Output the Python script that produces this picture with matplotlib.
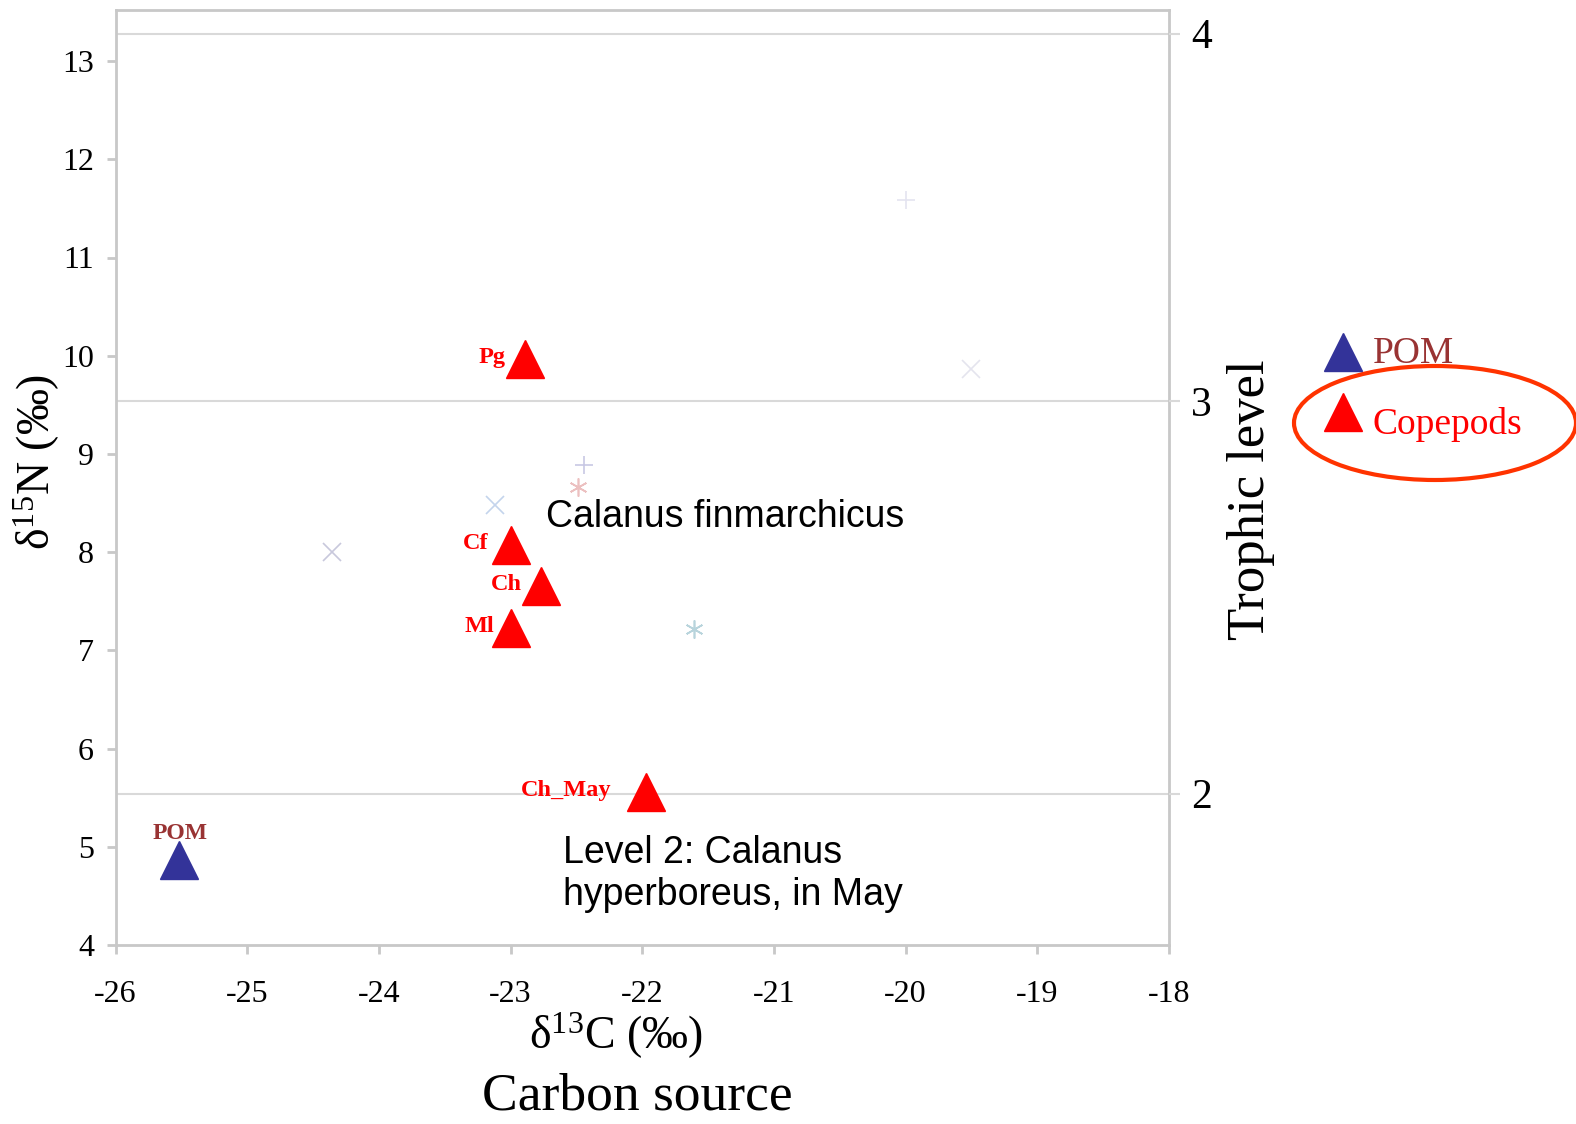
import matplotlib
matplotlib.use("Agg")
import matplotlib.pyplot as plt
from matplotlib.patches import Ellipse

plt.rcParams['font.family'] = ['Liberation Serif', 'DejaVu Serif']
plt.rcParams['mathtext.fontset'] = 'custom'
plt.rcParams['mathtext.rm'] = 'Liberation Serif'
plt.rcParams['mathtext.it'] = 'Liberation Serif:italic'
plt.rcParams['mathtext.bf'] = 'Liberation Serif:bold'

# Data
pom_label = ["POM"]
pom_d13C = [-25.52]
pom_d15N = [4.87]

cop_labels = ["Pg", "Cf", "Ch", "Ml", "Ch_May"]
cop_d13C = [-22.89, -23.00, -22.77, -23.00, -21.97]
cop_d15N = [9.97, 8.07, 7.66, 7.23, 5.56]
cop_label_gap = [14, 16, 14, 12, 25]

faint_d13C = [-24.36, -23.12, -22.49, -22.44, -21.61, -20.00, -19.50]
faint_d15N = [8.00, 8.48, 8.66, 8.89, 7.22, 11.59, 9.86]
faint_markers = ['x', 'x', (6, 2, 0), '+', (6, 2, 0), '+', 'x']
faint_colors = ['#c8c8dc', '#c4d4ec', '#ecc0c0', '#c8c8e4', '#b8d4dc', '#e4e4f0', '#e4e4ee']

trophic_levels = [2, 3, 4]
trophic_d15N = [5.54, 9.54, 13.28]

x_ticks = [-26, -25, -24, -23, -22, -21, -20, -19, -18]
y_ticks = [4, 5, 6, 7, 8, 9, 10, 11, 12, 13]

RED = '#ff0000'
BLUE = '#333399'
BROWN = '#993333'
SPINE = '#c8c8c8'

W, H = 1576, 1124
fig = plt.figure(figsize=(W / 100, H / 100), dpi=100)
ax = fig.add_axes([115.6 / W, 1 - 945 / H, (1169 - 115.6) / W, (945 - 10) / H])
ax.set_xlim(-26, -18)
ax.set_ylim(4, 13.52)

for sp in ax.spines.values():
    sp.set_color(SPINE)
    sp.set_linewidth(2)

ax.set_xticks(x_ticks)
ax.set_yticks(y_ticks)
ax.set_xticklabels([str(v) for v in x_ticks])
ax.set_yticklabels([str(v) for v in y_ticks])
ax.tick_params(axis='both', direction='out', length=6.5, width=2, color=SPINE,
               labelsize=23)
ax.tick_params(axis='x', pad=19)
ax.tick_params(axis='y', pad=9)

# right axis: trophic level
ax2 = ax.twinx()
ax2.set_ylim(ax.get_ylim())
ax2.set_yticks(trophic_d15N)
ax2.set_yticklabels([str(t) for t in trophic_levels])
ax2.tick_params(axis='y', direction='out', length=8, width=1.5, color='#d9d9d9',
                labelsize=30, pad=8)
for sp in ax2.spines.values():
    sp.set_visible(False)
for t in trophic_d15N:
    ax.axhline(t, color='#d9d9d9', lw=1.5, zorder=0)

# faint markers
for x, y, m, c in zip(faint_d13C, faint_d15N, faint_markers, faint_colors):
    ax.plot([x], [y], marker=m, ms=13, mew=1.2, color=c, ls='none', zorder=1)

# data
ax.plot(pom_d13C, pom_d15N, marker='^', ms=27, color=BLUE, ls='none', zorder=3)
ax.plot(cop_d13C, cop_d15N, marker='^', ms=27, color=RED, ls='none', zorder=3)

ax.annotate(pom_label[0], (pom_d13C[0], pom_d15N[0]), xytext=(1, 19),
            textcoords='offset points', ha='center', va='center',
            color=BROWN, fontsize=17, fontweight='bold', zorder=4)
for lab, x, y, g in zip(cop_labels, cop_d13C, cop_d15N, cop_label_gap):
    ax.annotate(lab, (x, y), xytext=(-g, 1), textcoords='offset points',
                ha='right', va='center', color=RED, fontsize=17.5,
                fontweight='bold', zorder=4)

sans = ['Liberation Sans', 'DejaVu Sans']
ax.text(-22.73, 8.36, "Calanus finmarchicus", family=sans, fontsize=27,
        ha='left', va='center', color='black')
ax.text(-22.60, 4.72, "Level 2: Calanus\nhyperboreus, in May", family=sans,
        fontsize=27, ha='left', va='center', color='black', linespacing=1.2)

fig.text(37 / W, 1 - 462 / H, "δ$^{15}$N (‰)", fontsize=33, ha='center',
         va='center', rotation=90)
fig.text(616 / W, 1 - 1049 / H, "δ$^{13}$C (‰)", fontsize=33, ha='center',
         va='baseline')
fig.text(637 / W, 1 - 1110 / H, "Carbon source", fontsize=38.5, ha='center',
         va='baseline')
fig.text(1251 / W, 0.555, "Trophic level", fontsize=38, ha='center',
         va='center', rotation=90)

# legend outside
lx = 1343 / W
fig.lines.append(plt.Line2D([lx], [1 - 352 / H], marker='^', ms=27,
                            color=BLUE, transform=fig.transFigure))
fig.lines.append(plt.Line2D([lx], [1 - 412 / H], marker='^', ms=27,
                            color=RED, transform=fig.transFigure))
fig.text(1373 / W, 1 - 354 / H, "POM", fontsize=27, color=BROWN,
         ha='left', va='center')
fig.text(1373 / W, 1 - 424 / H, "Copepods", fontsize=27, color=RED,
         ha='left', va='center')
ell = Ellipse((1435 / W, 1 - 423 / H), 282 / W, 114 / H,
              transform=fig.transFigure, fill=False, ec='#ff3300', lw=3)
fig.patches.append(ell)

fig.savefig("out.png", dpi=100)
